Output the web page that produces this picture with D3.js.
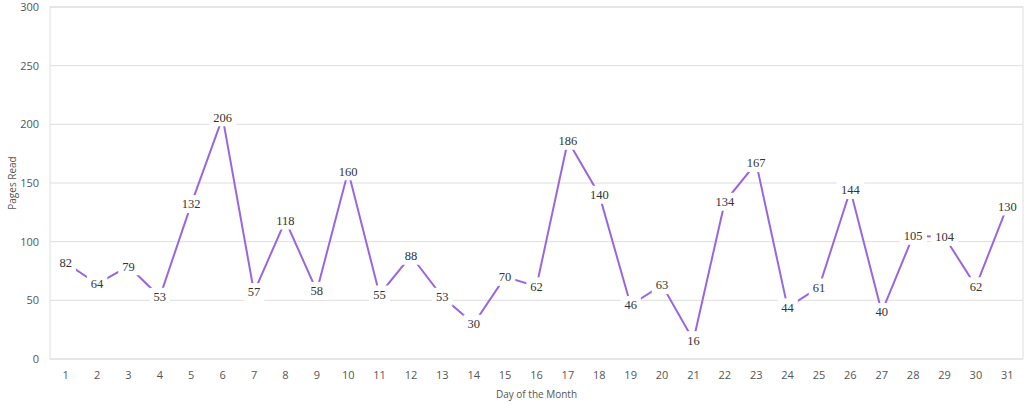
<!DOCTYPE html>
<html lang="en">
<head>
    <meta charset="UTF-8">
    <script src="https://cdn.jsdelivr.net/npm/d3@7"></script>
    <title>Pages Read</title>
    <style>
        body { margin: 0; background: white; }
        .axis text { font-family: "Open Sans", sans-serif; font-size: 11px; fill: #555; }
        .title { font-family: "Open Sans", sans-serif; font-size: 10px; fill: #555; }
        .lbl { font-family: "Liberation Serif", "Times New Roman", serif; font-size: 12.5px; fill: #333; }
    </style>
</head>
<body>
    <div id="chart"></div>
    <script>
        // data
        const days = d3.range(1, 32)
        const pages = [82, 64, 79, 53, 132, 206, 57, 118, 58, 160, 55, 88, 53, 30, 70, 62,
            186, 140, 46, 63, 16, 134, 167, 44, 61, 144, 40, 105, 104, 62, 130]
        const yTicks = [0, 50, 100, 150, 200, 250, 300]

        const width = 1030, height = 405
        const margin = { top: 7, right: 7, bottom: 46, left: 50 }

        const svg = d3.select("#chart").append("svg")
            .attr("width", width)
            .attr("height", height)

        const x = d3.scaleBand()
            .domain(days)
            .range([margin.left, width - margin.right])

        const y = d3.scaleLinear()
            .domain([0, 300])
            .range([height - margin.bottom, margin.top])

        // grid lines
        svg.append("g")
            .selectAll("line")
            .data(yTicks)
            .enter()
            .append("line")
            .attr("x1", margin.left)
            .attr("x2", width - margin.right)
            .attr("y1", d => y(d))
            .attr("y2", d => y(d))
            .attr("stroke", "#dedede")
            .attr("stroke-width", 1)

        // plot border
        svg.append("rect")
            .attr("x", margin.left)
            .attr("y", margin.top)
            .attr("width", width - margin.left - margin.right)
            .attr("height", height - margin.top - margin.bottom)
            .attr("fill", "none")
            .attr("stroke", "#dedede")

        // axes
        const xAxis = svg.append("g")
            .attr("class", "axis")
            .attr("transform", `translate(0,${height - margin.bottom})`)
            .call(d3.axisBottom(x).tickSize(0).tickPadding(12))
        xAxis.select(".domain").remove()

        const yAxis = svg.append("g")
            .attr("class", "axis")
            .attr("transform", `translate(${margin.left},0)`)
            .call(d3.axisLeft(y).tickValues(yTicks).tickSize(0).tickPadding(11))
        yAxis.select(".domain").remove()

        // axis titles
        svg.append("text")
            .attr("class", "title")
            .attr("text-anchor", "middle")
            .attr("x", (margin.left + width - margin.right) / 2)
            .attr("y", height - 7)
            .text("Day of the Month")

        svg.append("text")
            .attr("class", "title")
            .attr("text-anchor", "middle")
            .attr("transform", `translate(16,${(margin.top + height - margin.bottom) / 2}) rotate(-90)`)
            .text("Pages Read")

        // line
        const line = d3.line()
            .x((d, i) => x(days[i]) + x.bandwidth() / 2)
            .y(d => y(d))

        svg.append("path")
            .datum(pages)
            .attr("d", line)
            .attr("fill", "none")
            .attr("stroke", "#9a66e0")
            .attr("stroke-width", 2)

        // data labels with white background
        const labels = svg.append("g")
            .selectAll("g")
            .data(pages)
            .enter()
            .append("g")
            .attr("transform", (d, i) => `translate(${x(days[i]) + x.bandwidth() / 2},${y(d)})`)

        labels.append("rect")
            .attr("x", d => -String(d).length * 3.6 - 3)
            .attr("y", -9)
            .attr("width", d => String(d).length * 7.2 + 6)
            .attr("height", 18)
            .attr("fill", "white")

        labels.append("text")
            .attr("class", "lbl")
            .attr("text-anchor", "middle")
            .attr("dy", "0.35em")
            .text(d => d)
    </script>
</body>
</html>
